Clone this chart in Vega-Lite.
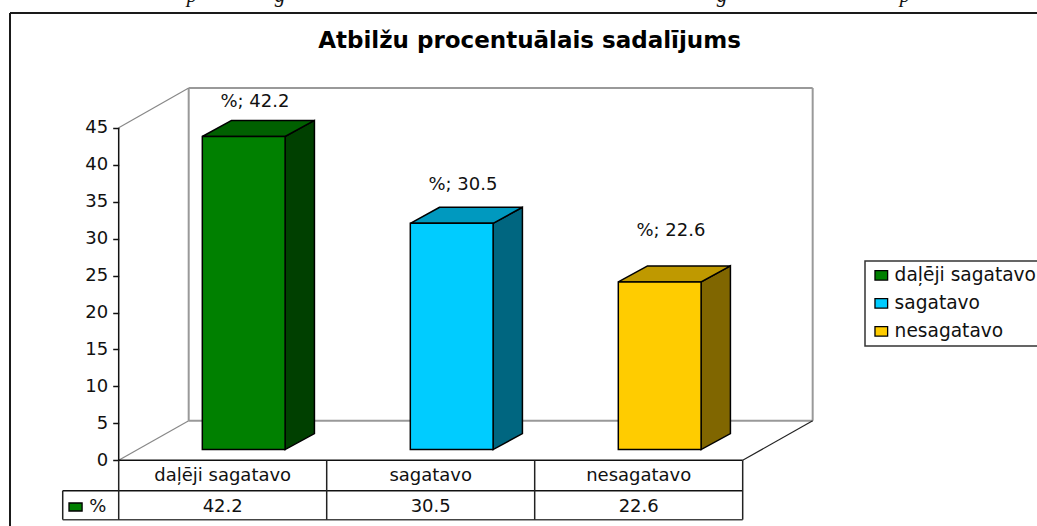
{
"$schema":"https://vega.github.io/schema/vega-lite/v6.json",
"width":1037,"height":526,"padding":0,"autosize":{"type":"none"},"background":"white",
"title":{"text":"Atbilžu procentuālais sadalījums","font":"DejaVu Sans","fontSize":23,"fontWeight":"bold","color":"#000","anchor":"middle","offset":0,"dx":11,"dy":86,"baseline":"alphabetic"},
"config":{"view":{"stroke":null},"axisX":{"disable":true},"text":{"font":"DejaVu Sans","fontSize":18,"color":"#111"},"legend":{"strokeWidth":1.5}},
"resolve":{"scale":{"color":"independent"},"axis":{"y":"independent"}},
"datasets":{"rows":[
{"category":"daļēji sagatavo","value":42.2,"idx":0},
{"category":"sagatavo","value":30.5,"idx":1},
{"category":"nesagatavo","value":22.6,"idx":2}],
"blank":[{}]},
"data":{"name":"rows"},
"layer":[
{"data":{"name":"blank"},"mark":{"type":"rule","stroke":"#1a1a1a","strokeWidth":2},"encoding":{
 "x":{"datum":-0.5226,"type":"quantitative","scale":{"domain":[-0.5707,4.415],"nice":false,"zero":false},"axis":null},
 "x2":{"datum":-0.5226},
 "y":{"datum":60.53,"type":"quantitative","scale":{"domain":[-8.89,62.29],"nice":false,"zero":false},"axis":null},
 "y2":{"datum":-8.89}}},
{"data":{"name":"blank"},"mark":{"type":"rule","stroke":"#1a1a1a","strokeWidth":2},"encoding":{"x":{"datum":-0.5226,"type":"quantitative"},"x2":{"datum":4.415},"y":{"datum":60.53,"type":"quantitative","axis":null}}},
{"data":{"name":"blank"},"mark":{"type":"rule","stroke":"#999","strokeWidth":2},"encoding":{"x":{"datum":0.3365,"type":"quantitative"},"x2":{"datum":3.3365},"y":{"datum":50.38,"type":"quantitative","axis":null}}},
{"data":{"name":"blank"},"mark":{"type":"rule","stroke":"#999","strokeWidth":2},"encoding":{"x":{"datum":0.3365,"type":"quantitative"},"x2":{"datum":3.3365},"y":{"datum":5.36,"type":"quantitative","axis":null}}},
{"data":{"name":"blank"},"mark":{"type":"rule","stroke":"#999","strokeWidth":2},"encoding":{"x":{"datum":0.3365,"type":"quantitative"},"y":{"datum":5.36,"type":"quantitative","axis":null},"y2":{"datum":50.38}}},
{"data":{"name":"blank"},"mark":{"type":"rule","stroke":"#999","strokeWidth":2},"encoding":{"x":{"datum":3.3365,"type":"quantitative"},"y":{"datum":5.36,"type":"quantitative","axis":null},"y2":{"datum":50.38}}},
{"data":{"name":"blank"},"mark":{"type":"rule","stroke":"#888","strokeWidth":1.2},"encoding":{"x":{"datum":0,"type":"quantitative"},"x2":{"datum":0.3365},"y":{"datum":45,"type":"quantitative","axis":null},"y2":{"datum":50.38}}},
{"data":{"name":"blank"},"mark":{"type":"rule","stroke":"#888","strokeWidth":1.2},"encoding":{"x":{"datum":0,"type":"quantitative"},"x2":{"datum":0.3365},"y":{"datum":0,"type":"quantitative","axis":null},"y2":{"datum":5.36}}},
{"data":{"name":"blank"},"mark":{"type":"rule","stroke":"#222","strokeWidth":1.2},"encoding":{"x":{"datum":3,"type":"quantitative"},"x2":{"datum":3.3365},"y":{"datum":0,"type":"quantitative","axis":null},"y2":{"datum":5.36}}},

{"data":{"name":"blank"},"mark":{"type":"rule","stroke":"#111","strokeWidth":1.5},"encoding":{"x":{"datum":-0.2692,"type":"quantitative"},"x2":{"datum":3},"y":{"datum":-4.11,"type":"quantitative","axis":null}}},
{"data":{"name":"blank"},"mark":{"type":"rule","stroke":"#444","strokeWidth":1.5},"encoding":{"x":{"datum":-0.2692,"type":"quantitative"},"x2":{"datum":3},"y":{"datum":-8.03,"type":"quantitative","axis":null}}},
{"data":{"name":"blank"},"mark":{"type":"rule","stroke":"#111","strokeWidth":1.5},"encoding":{"x":{"datum":0,"type":"quantitative"},"x2":{"datum":3},"y":{"datum":0,"type":"quantitative","axis":null}}},
{"data":{"name":"blank"},"mark":{"type":"rule","stroke":"#222","strokeWidth":1.5},"encoding":{"x":{"datum":-0.2692,"type":"quantitative"},"y":{"datum":-8.03,"type":"quantitative","axis":null},"y2":{"datum":-4.11}}},
{"data":{"name":"blank"},"mark":{"type":"rule","stroke":"#222","strokeWidth":1.5},"encoding":{"x":{"datum":0,"type":"quantitative"},"y":{"datum":-8.03,"type":"quantitative","axis":null},"y2":{"datum":0}}},
{"data":{"name":"blank"},"mark":{"type":"rule","stroke":"#222","strokeWidth":1.5},"encoding":{"x":{"datum":1,"type":"quantitative"},"y":{"datum":-8.03,"type":"quantitative","axis":null},"y2":{"datum":0}}},
{"data":{"name":"blank"},"mark":{"type":"rule","stroke":"#222","strokeWidth":1.5},"encoding":{"x":{"datum":2,"type":"quantitative"},"y":{"datum":-8.03,"type":"quantitative","axis":null},"y2":{"datum":0}}},
{"data":{"name":"blank"},"mark":{"type":"rule","stroke":"#222","strokeWidth":1.5},"encoding":{"x":{"datum":3,"type":"quantitative"},"y":{"datum":-8.03,"type":"quantitative","axis":null},"y2":{"datum":0}}},

{"data":{"name":"blank"},"mark":{"type":"rule","stroke":"#111","strokeWidth":1.5},"encoding":{"x":{"datum":0,"type":"quantitative"},
 "y":{"datum":0,"type":"quantitative","axis":{"offset":-118.7,"values":[0,5,10,15,20,25,30,35,40,45],"domain":false,"grid":false,"title":null,"tickColor":"#111","tickSize":6,"tickWidth":1.5,"labelFont":"DejaVu Sans","labelFontSize":18,"labelColor":"#111","labelPadding":5,"labelOverlap":false,"labelFlush":false}},
 "y2":{"datum":45}}},

{"transform":[{"calculate":"[0,1]","as":"t"},{"flatten":["t"]},{"calculate":"datum.idx+0.8+datum.t*0.141","as":"right"},{"calculate":"datum.value*1.004+1.45+datum.t*2.17","as":"topD"},{"calculate":"1.45+datum.t*2.17","as":"baseD"}],
 "mark":{"type":"area","stroke":"#000","strokeWidth":1.5,"opacity":1},"encoding":{
 "x":{"field":"right","type":"quantitative"},
 "y":{"field":"topD","type":"quantitative","axis":null},
 "y2":{"field":"baseD"},
 "color":{"field":"category","type":"nominal","legend":null,"scale":{"domain":["daļēji sagatavo","sagatavo","nesagatavo"],"range":["#004000","#006680","#806600"]}}}},
{"transform":[{"calculate":"[0,1]","as":"t"},{"flatten":["t"]},{"calculate":"datum.idx+0.402+datum.t*0.141","as":"left"},{"calculate":"datum.idx+0.8+datum.t*0.141","as":"right"},{"calculate":"datum.value*1.004+1.45+datum.t*2.17","as":"topD"}],
 "mark":{"type":"area","orient":"horizontal","stroke":"#000","strokeWidth":1.5,"opacity":1},"encoding":{
 "y":{"field":"topD","type":"quantitative","axis":null},
 "x":{"field":"left","type":"quantitative"},
 "x2":{"field":"right"},
 "color":{"field":"category","type":"nominal","legend":null,"scale":{"domain":["daļēji sagatavo","sagatavo","nesagatavo"],"range":["#006000","#0099BF","#BF9900"]}}}},
{"transform":[{"calculate":"datum.idx+0.402","as":"left"},{"calculate":"datum.idx+0.8","as":"right"},{"calculate":"datum.value*1.004+1.45","as":"top"},{"calculate":"1.45","as":"base"}],
 "mark":{"type":"rect","stroke":"#000","strokeWidth":1.5,"opacity":1},"encoding":{
 "x":{"field":"left","type":"quantitative"},"x2":{"field":"right"},
 "y":{"field":"top","type":"quantitative","axis":null},"y2":{"field":"base"},
 "color":{"field":"category","type":"nominal","scale":{"domain":["daļēji sagatavo","sagatavo","nesagatavo"],"range":["#008000","#00CCFF","#FFCC00"]},
  "legend":{"orient":"none","legendX":865,"legendY":261,"title":null,"fillColor":"#fff","strokeColor":"#333","padding":5,"symbolType":"M-1,-0.75H1V0.75H-1Z","symbolSize":160,"symbolStrokeColor":"#000","symbolStrokeWidth":1.3,"symbolOpacity":1,"labelFont":"DejaVu Sans","labelFontSize":18.6,"labelColor":"#111","labelLimit":300,"rowPadding":9,"labelOffset":4,"symbolOffset":2}}}},

{"transform":[{"calculate":"datum.idx+0.655","as":"lx"},{"calculate":"datum.value+[5.6,6.08,7.75][datum.idx]","as":"ly"},{"calculate":"'%; '+format(datum.value,'.1f')","as":"label"}],
 "mark":{"type":"text","baseline":"alphabetic","align":"center"},"encoding":{"x":{"field":"lx","type":"quantitative"},"y":{"field":"ly","type":"quantitative","axis":null},"text":{"field":"label"}}},
{"transform":[{"calculate":"datum.idx+0.5","as":"cx"}],"mark":{"type":"text","baseline":"middle","align":"center"},"encoding":{"x":{"field":"cx","type":"quantitative"},"y":{"datum":-2.12,"type":"quantitative","axis":null},"text":{"field":"category"}}},
{"transform":[{"calculate":"datum.idx+0.5","as":"cx"}],"mark":{"type":"text","baseline":"middle","align":"center"},"encoding":{"x":{"field":"cx","type":"quantitative"},"y":{"datum":-6.32,"type":"quantitative","axis":null},"text":{"field":"value","type":"quantitative","format":".1f"}}},
{"data":{"name":"blank"},"mark":{"type":"rect","fill":"#008000","stroke":"#000","strokeWidth":1.3},"encoding":{"x":{"datum":-0.239,"type":"quantitative"},"x2":{"datum":-0.176},"y":{"datum":-5.78,"type":"quantitative","axis":null},"y2":{"datum":-6.86}}},
{"data":{"name":"blank"},"mark":{"type":"text","text":"%","baseline":"middle","align":"center"},"encoding":{"x":{"datum":-0.1,"type":"quantitative"},"y":{"datum":-6.32,"type":"quantitative","axis":null}}},
{"data":{"name":"blank"},"mark":{"type":"text","text":"p","font":"Liberation Serif","fontStyle":"italic","fontSize":21,"color":"#111","baseline":"alphabetic","align":"center"},"encoding":{"x":{"datum":0.352,"type":"quantitative"},"y":{"datum":62.0,"type":"quantitative","axis":null}}},
{"data":{"name":"blank"},"mark":{"type":"text","text":"g","font":"Liberation Serif","fontStyle":"italic","fontSize":21,"color":"#111","baseline":"alphabetic","align":"center"},"encoding":{"x":{"datum":0.775,"type":"quantitative"},"y":{"datum":62.0,"type":"quantitative","axis":null}}},
{"data":{"name":"blank"},"mark":{"type":"text","text":"g","font":"Liberation Serif","fontStyle":"italic","fontSize":21,"color":"#111","baseline":"alphabetic","align":"center"},"encoding":{"x":{"datum":2.9,"type":"quantitative"},"y":{"datum":62.0,"type":"quantitative","axis":null}}},
{"data":{"name":"blank"},"mark":{"type":"text","text":"p","font":"Liberation Serif","fontStyle":"italic","fontSize":21,"color":"#111","baseline":"alphabetic","align":"center"},"encoding":{"x":{"datum":3.78,"type":"quantitative"},"y":{"datum":62.0,"type":"quantitative","axis":null}}}
]
}
